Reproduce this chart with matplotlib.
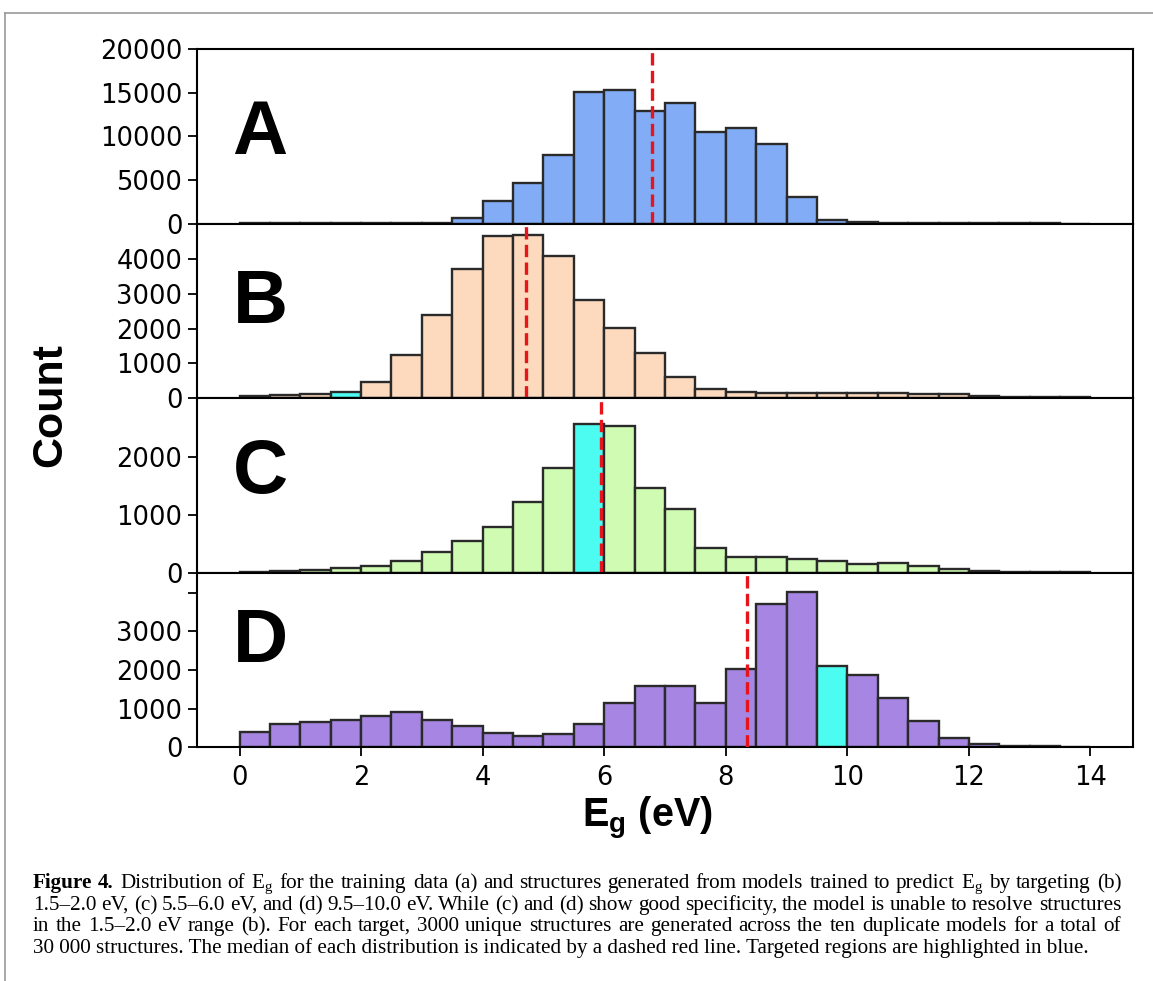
import matplotlib
matplotlib.use("Agg")
import matplotlib.pyplot as plt
import numpy as np

# ---------------- data ----------------
bin_edges = np.arange(0, 14.01, 0.5)          # 28 bins of width 0.5 eV
bin_left = bin_edges[:-1]

counts_A = [15, 15, 15, 20, 25, 40, 115, 654, 2578, 4655, 7810, 15119, 15311, 12887,
            13772, 10541, 10964, 9156, 3039, 423, 154, 40, 20, 15, 10, 10, 10, 5]
counts_B = [48, 86, 115, 190, 478, 1234, 2383, 3704, 4680, 4689, 4086, 2814, 2010, 1292,
            622, 258, 163, 134, 134, 144, 144, 134, 115, 115, 67, 38, 29, 19]
counts_C = [17, 29, 52, 81, 121, 208, 358, 554, 790, 1212, 1806, 2568, 2533, 1454,
            1096, 421, 271, 265, 231, 196, 156, 173, 115, 58, 35, 17, 12, 12]
counts_D = [404, 593, 654, 705, 808, 903, 697, 542, 370, 292, 335, 593, 1144, 1591,
            1574, 1144, 2012, 3698, 4016, 2107, 1875, 1273, 671, 249, 77, 43, 26, 9]

medians = [6.79, 4.71, 5.95, 8.35]
target_bins = [None, 3, 11, 19]               # index of highlighted bin per panel
panel_letters = ["A", "B", "C", "D"]

ylims = [20000, 5024, 3010, 4514]
yticks = [[0, 5000, 10000, 15000, 20000],
          [0, 1000, 2000, 3000, 4000],
          [0, 1000, 2000],
          [0, 1000, 2000, 3000, 4000]]
yticklabels = [["0", "5000", "10000", "15000", "20000"],
               ["0", "1000", "2000", "3000", "4000"],
               ["0", "1000", "2000"],
               ["0", "1000", "2000", "3000", ""]]
xticks = [0, 2, 4, 6, 8, 10, 12, 14]

face_colors = ["#82adf6", "#fdd9bd", "#cffcb2", "#a686e2"]
highlight_color = "#4dfcf0"
letter_y = [0.51, 0.545, 0.57, 0.60]

caption_lines = [
    [("Figure", True), ("4.", True), ("Distribution", False), ("of", False),
     (r"$\mathregular{E_g}$", False)] +
    [(w, False) for w in "for the training data (a) and structures generated from models trained to predict".split()] +
    [(r"$\mathregular{E_g}$", False), ("by", False), ("targeting", False), ("(b)", False)],
    [(w, False) for w in "1.5–2.0 eV, (c) 5.5–6.0 eV, and (d) 9.5–10.0 eV. While (c) and (d) show good specificity, the model is unable to resolve structures".split()],
    [(w, False) for w in "in the 1.5–2.0 eV range (b). For each target, 3000 unique structures are generated across the ten duplicate models for a total of".split()],
    [("30 000 structures. The median of each distribution is indicated by a dashed red line. Targeted regions are highlighted in blue.", False)],
]

# ---------------- figure ----------------
W, H = 1153, 981
plt.rcParams["mathtext.fontset"] = "custom"
plt.rcParams["mathtext.bf"] = "Liberation Sans:bold"
plt.rcParams["mathtext.rm"] = "Liberation Serif"

fig = plt.figure(figsize=(W / 100, H / 100), dpi=100)
gs = fig.add_gridspec(4, 1, left=197 / W, right=1133 / W,
                      top=1 - 49 / H, bottom=1 - 747.3 / H, hspace=0)

all_counts = [counts_A, counts_B, counts_C, counts_D]
axes = []
for i in range(4):
    ax = fig.add_subplot(gs[i, 0], sharex=axes[0] if axes else None)
    axes.append(ax)
    cols = [face_colors[i]] * len(bin_left)
    if target_bins[i] is not None:
        cols[target_bins[i]] = highlight_color
    ax.bar(bin_left, all_counts[i], width=0.5, align="edge", color=cols,
           edgecolor="#2a2a2a", linewidth=1.7, zorder=2)
    ax.axvline(medians[i], color="#e8141b", linestyle="--", linewidth=2.4, zorder=3)
    ax.set_ylim(0, ylims[i])
    ax.set_xlim(-0.7, 14.7)
    ax.set_yticks(yticks[i])
    ax.set_yticklabels(yticklabels[i])
    ax.tick_params(axis="y", labelsize=18.5, length=6.5, width=1.3, pad=4)
    ax.tick_params(axis="x", labelsize=18.5, length=6.5, width=1.3, pad=6)
    for s in ax.spines.values():
        s.set_linewidth(1.5)
    ax.text(0.038, letter_y[i], panel_letters[i], transform=ax.transAxes,
            fontsize=55, fontweight="bold", family="Liberation Sans",
            ha="left", va="center")
    if i < 3:
        ax.tick_params(axis="x", bottom=False, labelbottom=False)

axes[-1].set_xticks(xticks)
axes[-1].set_xticklabels([str(x) for x in xticks])

fig.text(50 / W, 1 - 405 / H, "Count", rotation=90, fontsize=31,
         fontweight="bold", family="Liberation Sans", ha="center", va="center")
fig.text(647 / W, 1 - 818 / H, r"$\mathbf{E_g}$ (eV)", fontsize=28.5,
         fontweight="bold", family="Liberation Sans", ha="center", va="center")

# frame of the screenshot
fig.add_artist(plt.Line2D([5 / W, 1], [1 - 13 / H, 1 - 13 / H], color="#9a9a9a",
                          linewidth=1.2, transform=fig.transFigure))
fig.add_artist(plt.Line2D([5 / W, 5 / W], [1 - 13 / H, 0], color="#9a9a9a",
                          linewidth=1.2, transform=fig.transFigure))

# ---------------- caption (justified) ----------------
renderer = fig.canvas.get_renderer()
cap_x0, cap_x1 = 33, 1121
baselines = [888, 910, 931, 953]
cap_size = 15.2


def word_width(txt, bold, size):
    t = fig.text(0, 0, txt, fontsize=size, family="Liberation Serif",
                 fontweight="bold" if bold else "normal")
    w = t.get_window_extent(renderer).width
    t.remove()
    return w


for li, line in enumerate(caption_lines):
    widths = [word_width(w, b, cap_size) for w, b in line]
    gap = (cap_x1 - cap_x0 - sum(widths)) / (len(line) - 1) if len(line) > 1 else 0
    x = cap_x0
    for (w, b), wd in zip(line, widths):
        fig.text(round(x) / W, 1 - baselines[li] / H, w, fontsize=cap_size,
                 family="Liberation Serif", fontweight="bold" if b else "normal",
                 ha="left", va="baseline")
        x += wd + gap

fig.savefig("out.png", dpi=100)
